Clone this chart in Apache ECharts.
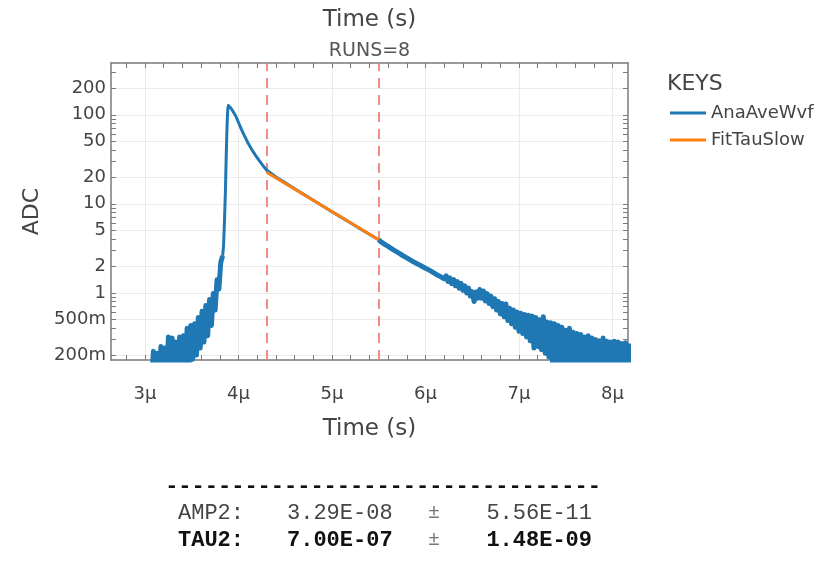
<!DOCTYPE html>
<html><head><meta charset="utf-8">
<script src="https://cdn.jsdelivr.net/npm/echarts@6/dist/echarts.min.js"></script>
<style>html,body{margin:0;padding:0;background:#fff}#c{width:832px;height:565px}</style>
</head><body><div id="c"></div>
<script>
// ---------- data ----------
// noisy pre-pulse samples, sampled every preStep µs from preStart
const preStart = 3.07, preStep = 0.02;
const preADC = [0.10,0.22,0.10,0.21,0.10,0.25,0.10,0.24,0.10,0.32,0.10,0.31,0.10,0.28,0.10,0.32,0.11,0.33,0.12,0.40,
  0.15,0.43,0.18,0.45,0.20,0.53,0.24,0.62,0.28,0.72,0.33,0.84,0.43,0.98,0.64,1.40,1.10,2.2,2.6];
// rise, peak and decay (smooth part)
const peakT = [3.83,3.84,3.85,3.86,3.865,3.87,3.875,3.88,3.885,3.892,3.90,3.915,3.94,3.97,4.00,4.03,4.06,4.10,4.14,4.18,4.22,
  4.26,4.30,4.40,4.50,4.60,4.70,4.80,4.90,5.00,5.10,5.20,5.30,5.40,5.50];
const peakADC = [2.6,3.4,6.5,14,24,40,62,90,115,127,126,120,110,97,82,69,59,48.5,41,35.3,30.7,
  27,24,20.0,17.2,14.8,12.7,10.95,9.45,8.15,7.05,6.1,5.25,4.55,3.95];
// noisy tail samples, sampled every tailStep µs from tailStart
const tailStart = 5.50, tailStep = 0.02;
const tailADC = [3.96,3.76,3.72,3.53,3.49,3.32,3.28,3.12,3.09,2.94,2.91,2.77,2.75,2.61,2.60,2.47,2.49,2.33,2.36,2.20,
  2.25,2.10,2.14,1.99,2.06,1.89,1.96,1.80,1.85,1.70,1.76,1.60,1.68,1.52,1.60,1.44,1.55,1.34,1.47,1.27,
  1.41,1.20,1.34,1.13,1.28,1.07,1.20,1.00,1.13,0.92,1.03,0.80,1.02,0.87,1.09,0.87,1.05,0.81,0.98,0.76,
  0.92,0.70,0.86,0.64,0.80,0.58,0.76,0.54,0.75,0.49,0.67,0.45,0.64,0.41,0.61,0.37,0.59,0.35,0.57,0.32,
  0.56,0.29,0.55,0.24,0.53,0.25,0.50,0.23,0.54,0.21,0.47,0.19,0.46,0.15,0.45,0.16,0.43,0.15,0.41,0.14,
  0.38,0.13,0.40,0.12,0.36,0.11,0.35,0.10,0.34,0.10,0.32,0.10,0.33,0.10,0.31,0.10,0.30,0.10,0.29,0.10,
  0.31,0.10,0.285,0.10,0.28,0.10,0.285,0.10,0.28,0.10,0.27,0.10,0.275,0.10,0.27];
// fit (FitTauSlow) end points
const fitT = [4.3, 5.5];
const fitADC = [22.6, 3.95];
// fit window cuts
const cutT = [4.3, 5.5];
// tick labels
const xLabels = [3,4,5,6,7,8];
const yLabels = [0.2,0.5,1,2,5,10,20,50,100,200];
const seriesNames = ['AnaAveWvf','FitTauSlow'];
const runsText = 'RUNS=8';
const fitRows = [
  ['AMP2:', '3.29E-08', '±', '5.56E-11'],
  ['TAU2:', '7.00E-07', '±', '1.48E-09']
];

// ---------- build ----------
const pre = preADC.map((v,i)=>[+(preStart+i*preStep).toFixed(4), v]);
const main = peakT.map((t,i)=>[t, peakADC[i]]);
const tail = tailADC.map((v,i)=>[+(tailStart+i*tailStep).toFixed(4), v]);
const fit = fitT.map((t,i)=>[t, fitADC[i]]);

const xMin = 2.636, xMax = 8.166, yMin = 0.176, yMax = 382;
const xMinor = []; for (let k = 14; k <= 40; k++) xMinor.push(+(k*0.2).toFixed(1));
const yMinor = []; [0.1,1,10,100].forEach(d=>{for(let m=1;m<=9;m++){const v=+(m*d).toPrecision(3); if(v>=yMin&&v<=yMax) yMinor.push(v);}});

const frame = {show:true, lineStyle:{color:'#7a7a7a', width:1.5}};
const tickStyle = {color:'#7a7a7a', width:1};
const FONT = 'DejaVu Sans';
const MONO = '"Liberation Mono", "Courier New", monospace';
const BLUE = '#1f77b4', ORANGE = '#ff7f0e';

const chart = echarts.init(document.getElementById('c'), null, {renderer:'canvas'});
const graphics = [
  {type:'text', left:667, top:73, style:{text:'KEYS', font:'22px '+FONT, fill:'#444'}},
  {type:'text', x:369.5, y:51, style:{text:runsText, font:'19px '+FONT, fill:'#555', align:'center', verticalAlign:'middle'}},
  {type:'text', x:383, y:486, style:{text:'-'.repeat(33), font:'bold 22px '+MONO, fill:'#111', align:'center', verticalAlign:'middle'}}
];
fitRows.forEach((r,i)=>{
  const y = 513 + i*27;
  const bold = i===1;
  const f = (bold?'bold ':'')+'22px '+MONO;
  const col = bold ? '#111' : '#444';
  graphics.push({type:'text', x:178, y, style:{text:r[0], font:f, fill:col, align:'left', verticalAlign:'middle'}});
  graphics.push({type:'text', x:287, y, style:{text:r[1], font:f, fill:col, align:'left', verticalAlign:'middle'}});
  graphics.push({type:'text', x:434, y, style:{text:r[2], font:'20px '+MONO, fill:'#777', align:'center', verticalAlign:'middle'}});
  graphics.push({type:'text', x:592, y, style:{text:r[3], font:f, fill:col, align:'right', verticalAlign:'middle'}});
});

const blueSeries = (data, w, extra) => Object.assign({name:seriesNames[0], type:'line', data, showSymbol:false, symbol:'none',
  lineStyle:{color:BLUE, width:w, join:'round'}, itemStyle:{color:BLUE}, z:3}, extra||{});

chart.setOption({
  animation:false,
  color:[BLUE, ORANGE],
  textStyle:{fontFamily:FONT},
  grid:{left:111, top:63, width:517, height:297, containLabel:false},
  legend:{data:seriesNames, orient:'vertical', left:665, top:99, icon:'rect', itemWidth:36, itemHeight:3, itemGap:9,
    textStyle:{fontSize:18, color:'#444', fontFamily:FONT}},
  xAxis:[
    {type:'value', min:xMin, max:xMax, position:'bottom', axisLine:frame,
     axisTick:{show:false, customValues:xLabels},
     axisLabel:{customValues:xLabels, formatter:v=>v+'μ', fontSize:18, color:'#444', margin:25, fontFamily:FONT},
     splitLine:{show:true, lineStyle:{color:'#ebebeb', width:1}},
     name:'Time (s)', nameLocation:'middle', nameGap:58, nameTextStyle:{fontSize:23, color:'#444', fontFamily:FONT}},
    {type:'value', min:xMin, max:xMax, position:'bottom', axisLine:{show:false},
     axisTick:{show:true, inside:true, length:5, customValues:xMinor, lineStyle:tickStyle},
     axisLabel:{show:false}, splitLine:{show:false}},
    {type:'value', min:xMin, max:xMax, position:'top', axisLine:frame,
     axisTick:{show:true, inside:true, length:5, customValues:xMinor, lineStyle:tickStyle},
     axisLabel:{show:false}, splitLine:{show:false},
     name:'Time (s)', nameLocation:'middle', nameGap:31, nameTextStyle:{fontSize:23, color:'#444', fontFamily:FONT}}
  ],
  yAxis:[
    {type:'log', min:yMin, max:yMax, position:'left', axisLine:frame,
     axisTick:{show:false, customValues:yLabels},
     axisLabel:{customValues:yLabels, fontSize:18, color:'#444', margin:5, fontFamily:FONT,
       formatter:v=>v<1 ? Math.round(v*1000)+'m' : String(Math.round(v))},
     splitLine:{show:true, lineStyle:{color:'#ebebeb', width:1}},
     name:'ADC', nameLocation:'middle', nameGap:68, nameRotate:90, nameTextStyle:{fontSize:22, color:'#444', fontFamily:FONT}},
    {type:'log', min:yMin, max:yMax, position:'left', axisLine:{show:false},
     axisTick:{show:true, inside:true, length:5, customValues:yMinor, lineStyle:tickStyle},
     axisLabel:{show:false}, splitLine:{show:false}},
    {type:'log', min:yMin, max:yMax, position:'right', axisLine:frame,
     axisTick:{show:true, inside:true, length:5, customValues:yMinor, lineStyle:tickStyle},
     axisLabel:{show:false}, splitLine:{show:false}}
  ],
  series:[
    blueSeries(pre, 5),
    blueSeries(main, 3, {
      markLine:{silent:true, symbol:'none', label:{show:false}, z:2,
        lineStyle:{color:'#ee7f76', width:2, type:[10,7], opacity:0.9},
        data:cutT.map(t=>({xAxis:t}))}}),
    blueSeries(tail, 5),
    {name:seriesNames[1], type:'line', data:fit, showSymbol:false, symbol:'none',
     lineStyle:{color:ORANGE, width:3}, itemStyle:{color:ORANGE}, z:4}
  ],
  graphic:graphics
});
</script></body></html>
